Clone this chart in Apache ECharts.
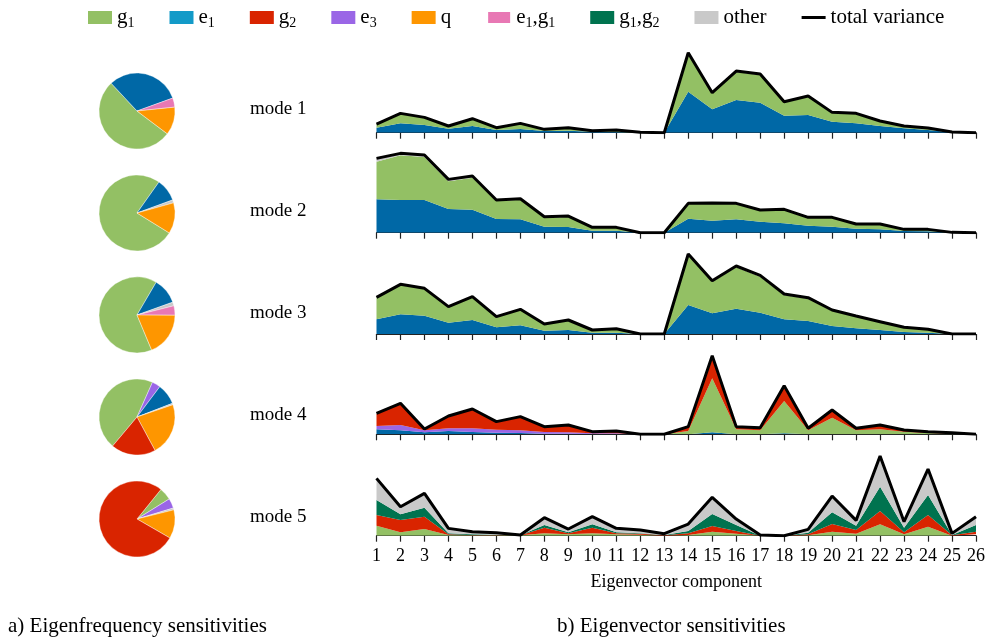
<!DOCTYPE html>
<html><head><meta charset="utf-8">
<script src="https://cdn.jsdelivr.net/npm/echarts@6/dist/echarts.min.js"></script>
<style>html,body{margin:0;padding:0;background:#fff}#c{width:989px;height:642px}</style>
</head><body><div id="c"></div>
<script>
const categories = ['1','2','3','4','5','6','7','8','9','10','11','12','13','14','15','16','17','18','19','20','21','22','23','24','25','26'];
const modeLabels = ['mode 1','mode 2','mode 3','mode 4','mode 5'];

// Eigenvector sensitivities (stacked components) and total variance per mode
const m1_e1    = [15,28,23,12,20,8,11,5,6,3,2,0,0,123,70,98,90,51,53,33,28,20,13,8,1,0];
const m1_g1    = [11,29,22,8,21,7,17,5,9,3,6,1,0,115,48,84,83,40,55,27,29,15,7,6,1,0];
const m1_other = [0,1,1,0,1,0,0,0,0,0,0,0,0,2,2,3,3,2,2,1,1,0,0,0,0,0];
const m1_total = [26,58,46,20,42,15,28,10,15,6,8,1,0,240,120,185,176,93,110,61,58,35,20,14,2,0];

const m2_e1    = [100,98,98,71,69,41,40,18,17,6,6,0,0,42,36,40,33,28,21,18,12,10,5,4,0,0];
const m2_g1    = [113,134,129,83,96,54,59,27,30,9,9,0,0,44,51,46,33,40,24,27,13,15,5,6,1,0];
const m2_other = [10,6,6,6,5,3,3,3,3,1,1,0,0,2,2,2,2,2,1,1,1,1,0,0,0,0];
const m2_total = [223,238,233,160,170,98,102,48,50,16,16,0,0,88,89,88,68,70,46,46,26,26,10,10,1,0];

const m3_e1    = [44,59,55,34,42,20,26,10,12,4,4,0,0,87,62,76,64,44,39,24,17,12,6,4,0,0];
const m3_g1    = [66,89,81,48,69,32,48,20,30,8,12,0,0,151,95,124,108,73,67,46,36,24,14,10,0,0];
const m3_other = [0,1,1,0,1,0,0,0,0,0,0,0,0,2,3,4,4,3,3,2,1,1,0,0,0,0];
const m3_total = [110,149,137,82,112,52,74,30,42,12,16,0,0,240,160,204,176,120,109,72,54,37,20,14,0,0];

const m4_e1    = [15,12,6,10,7,5,4,2,2,1,1,0,0,0,6,0,0,3,0,0,0,0,0,0,0,0];
const m4_e3    = [10,16,6,8,11,9,8,5,4,2,2,0,0,0,0,0,0,0,0,0,0,0,0,0,0,0];
const m4_g1    = [0,0,0,0,0,0,0,0,0,0,0,0,0,10,162,15,12,97,12,50,12,15,8,4,2,0];
const m4_g2    = [36,63,4,36,57,23,40,16,22,5,7,0,0,13,66,8,8,44,6,22,6,13,4,3,2,0];
const m4_q     = [0,0,0,0,0,0,0,0,0,0,0,0,0,0,0,0,0,0,0,0,0,0,1,1,1,0];
const m4_other = [2,2,0,1,1,1,1,0,0,0,0,0,0,0,2,0,0,2,0,1,0,0,0,0,0,0];
const m4_total = [63,93,16,55,76,38,53,23,28,8,10,0,0,23,236,23,20,146,18,73,18,28,13,8,5,0];

const m5_g1    = [30,10,20,2,1,1,1,7,4,7,4,3,0,2,12,6,0,0,1,12,6,34,4,27,0,4];
const m5_g2    = [32,37,37,2,1,1,0,17,3,17,3,3,1,5,17,8,0,0,3,23,11,40,6,35,1,8];
const m5_g1g2  = [45,17,27,3,2,1,0,8,3,10,3,1,1,7,36,18,0,0,5,35,13,73,14,60,1,20];
const m5_other = [65,23,43,15,8,6,1,22,10,23,12,10,4,21,50,18,2,0,10,49,16,92,18,78,5,25];
const m5_total = [172,87,127,22,12,9,2,54,20,57,22,17,6,35,115,50,2,0,19,119,46,239,42,200,7,57];

// Eigenfrequency sensitivities (pie shares, %), order: g1, e3, e1, other, e1g1, q, g2
const pieNames = ['g1','e3','e1','other','e1g1','q','g2'];
const pie1 = [52.8,0,31.4,0,3.9,11.9,0];
const pie2 = [76.0,0,9.6,1.3,0,13.1,0];
const pie3 = [64.8,0,11.1,1.6,4.0,18.6,0];
const pie4 = [45.6,3.6,8.9,0.6,0,22.4,19.0];
const pie5 = [5.3,4.2,0,0.8,0,12.2,77.5];

const legendNames = ['g1','e1','g2','e3','q','e1g1','g1g2','other','total variance'];

const colors = {g1:'#93c064', e1:'#0068a6', g2:'#d92400', e3:'#9a66e6', q:'#fe9600', e1g1:'#e878b4', g1g2:'#00734f', other:'#c9c9c9'};
const legendColors = {e1:'#139ac8'};
const richName = {
  'g1':'{t|g}{s|1}', 'e1':'{t|e}{s|1}', 'g2':'{t|g}{s|2}', 'e3':'{t|e}{s|3}', 'q':'{t|q}',
  'e1g1':'{t|e}{s|1}{t|,g}{s|1}', 'g1g2':'{t|g}{s|1}{t|,g}{s|2}', 'other':'{t|other}', 'total variance':'{t|total variance}'
};

const modes = [
  {e1:m1_e1, g1:m1_g1, other:m1_other, total:m1_total},
  {e1:m2_e1, g1:m2_g1, other:m2_other, total:m2_total},
  {e1:m3_e1, g1:m3_g1, other:m3_other, total:m3_total},
  {e1:m4_e1, e3:m4_e3, g1:m4_g1, g2:m4_g2, q:m4_q, other:m4_other, total:m4_total},
  {g1:m5_g1, g2:m5_g2, g1g2:m5_g1g2, other:m5_other, total:m5_total}
];
const pies = [pie1, pie2, pie3, pie4, pie5];
const stackOrder = ['e1','e3','g1','g2','q','e1g1','g1g2','other'];

const FONT = "'Liberation Serif', 'DejaVu Serif', serif";
const baselines = [132.7, 232.7, 334, 434.3, 535.7];
const GH = 84, YMAX = 252;
const pieCY = [111, 213, 315, 417, 519];
const pieStart = [-37, -31.7, -67.3, -130, 51];

const grids = [], xAxes = [], yAxes = [], series = [], graphics = [];
modes.forEach((m, i) => {
  const last = i === modes.length - 1;
  grids.push({left: 376.5, width: 599.5, top: baselines[i] - GH, height: GH});
  xAxes.push({
    gridIndex: i, type: 'category', boundaryGap: false, data: categories,
    axisLine: {show: true, lineStyle: {color: '#222', width: 1.2}},
    axisTick: {show: true, length: 6, interval: 0, lineStyle: {color: '#222', width: 1.2}},
    axisLabel: {show: last, interval: 0, margin: 12, color: '#000', fontFamily: FONT, fontSize: 18},
    splitLine: {show: false},
    name: last ? 'Eigenvector component' : '', nameLocation: 'middle', nameGap: 38,
    nameTextStyle: {color: '#000', fontFamily: FONT, fontSize: 18}
  });
  yAxes.push({gridIndex: i, type: 'value', min: 0, max: YMAX, show: false});
  stackOrder.forEach(k => {
    if (!m[k]) return;
    series.push({
      type: 'line', name: k, stack: 'mode' + i, xAxisIndex: i, yAxisIndex: i,
      data: m[k], symbol: 'none', silent: true,
      lineStyle: {width: 0}, itemStyle: {color: colors[k]},
      areaStyle: {color: colors[k], opacity: 1}
    });
  });
  series.push({
    type: 'line', name: 'total variance', xAxisIndex: i, yAxisIndex: i,
    data: m.total, symbol: 'none', silent: true, z: 5,
    lineStyle: {color: '#000', width: 3}, itemStyle: {color: '#000'}
  });
  const pd = [];
  pies[i].forEach((v, j) => { if (v > 0) pd.push({name: pieNames[j], value: v, itemStyle: {color: colors[pieNames[j]]}}); });
  series.push({
    type: 'pie', center: [137, pieCY[i]], radius: 38, startAngle: pieStart[i], clockwise: true,
    data: pd, silent: true, label: {show: false}, labelLine: {show: false},
    itemStyle: {borderColor: '#fff', borderWidth: 0.4}, emphasis: {disabled: true}
  });
  graphics.push({type: 'text', left: 250, top: pieCY[i] - 11,
    style: {text: modeLabels[i], fontFamily: FONT, fontSize: 19, fill: '#000'}});
});
graphics.push({type: 'text', left: 8, top: 616, style: {text: 'a) Eigenfrequency sensitivities', fontFamily: FONT, fontSize: 21, fill: '#000'}});
graphics.push({type: 'text', left: 557, top: 616, style: {text: 'b) Eigenvector sensitivities', fontFamily: FONT, fontSize: 21, fill: '#000'}});

const chart = echarts.init(document.getElementById('c'), null, {renderer: 'canvas'});
chart.setOption({
  animation: false,
  backgroundColor: '#fff',
  legend: {
    left: 83, top: 2, itemWidth: 24, itemHeight: 13, itemGap: 35, symbolKeepAspect: true,
    data: legendNames.map(n => n === 'total variance'
      ? {name: n, icon: 'path://M0,0h24v3h-24z', itemStyle: {color: '#000'}}
      : {name: n, icon: 'rect', itemStyle: {color: legendColors[n] || colors[n]}}),
    formatter: n => richName[n],
    textStyle: {color: '#000', fontFamily: FONT, fontSize: 21,
      rich: {t: {fontFamily: FONT, fontSize: 21, color: '#000', lineHeight: 26},
             s: {fontFamily: FONT, fontSize: 14, color: '#000', lineHeight: 26, verticalAlign: 'bottom'}}}
  },
  grid: grids, xAxis: xAxes, yAxis: yAxes, series: series, graphic: graphics
});
</script></body></html>
